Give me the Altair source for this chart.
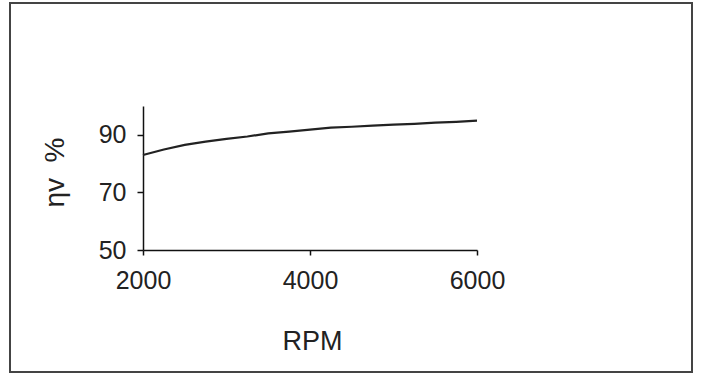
import altair as alt
import pandas as pd

rpm = [2000, 2250, 2500, 2750, 3000, 3250, 3500, 3750, 4000, 4250, 4500, 4750, 5000, 5250, 5500, 5750, 6000]
eta_v = [83.0, 84.9, 86.5, 87.6, 88.6, 89.4, 90.5, 91.1, 91.8, 92.5, 92.8, 93.2, 93.5, 93.8, 94.2, 94.5, 94.9]
x_ticks = [2000, 4000, 6000]
y_ticks = [50, 70, 90]

df = pd.DataFrame({"rpm": rpm, "eta": eta_v})

FONT = "Liberation Sans"

line = alt.Chart(df).mark_line(color="#222222", strokeWidth=2.2).encode(
    x=alt.X("rpm:Q", scale=alt.Scale(domain=[2000, 6000], nice=False, zero=False),
            axis=alt.Axis(values=x_ticks, title="RPM", grid=False, format="d",
                          labelFlush=False,
                          domainColor="#111111", domainWidth=1.5, tickColor="#111111",
                          tickWidth=1.5, tickSize=5, labelPadding=13,
                          labelFont=FONT, labelFontSize=25, labelColor="#222222",
                          titleFont=FONT, titleFontSize=27, titleFontWeight="normal",
                          titleColor="#222222", titleBaseline="alphabetic",
                          titleX=169, titleY=99)),
    y=alt.Y("eta:Q", scale=alt.Scale(domain=[50, 100], nice=False, zero=False),
            axis=alt.Axis(values=y_ticks, title="ηv\u00a0\u00a0%", grid=False,
                          domainColor="#111111", domainWidth=1.5, tickColor="#111111",
                          tickWidth=1.5, tickSize=6, labelPadding=11,
                          labelFont=FONT, labelFontSize=25, labelColor="#222222",
                          titleFont=FONT, titleFontSize=28, titleFontWeight="normal",
                          titleColor="#222222", titleAngle=-90, titleBaseline="bottom",
                          titleX=-74, titleY=66)),
)

frame = alt.Chart(df).mark_rect(fill=None, stroke="#444444", strokeWidth=2).encode(
    x=alt.value(-133), x2=alt.value(549), y=alt.value(-103), y2=alt.value(266)
)

chart = alt.layer(frame, line).properties(
    width=334, height=144,
    autosize=alt.AutoSizeParams(type="none"),
    padding={"left": 143, "top": 106, "right": 226, "bottom": 127},
    background="white",
).configure_view(stroke=None)

chart.save("out.html", embed_options={"renderer": "svg", "actions": False})
